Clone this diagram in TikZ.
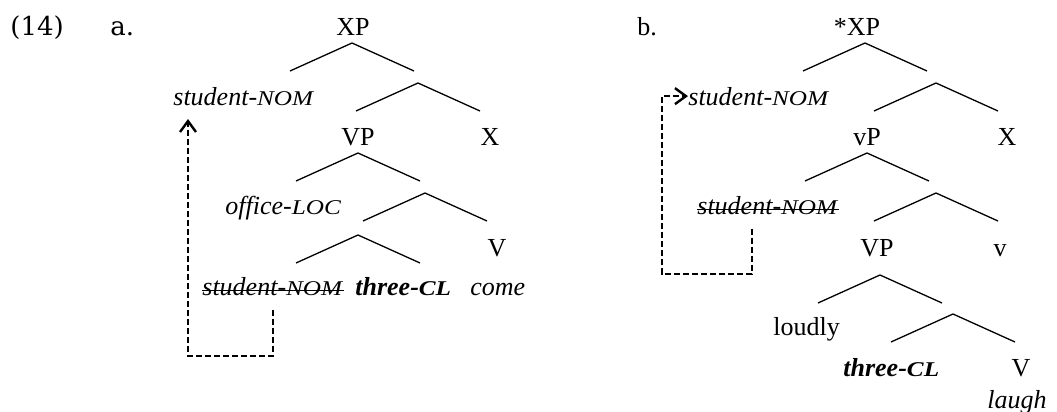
\documentclass[tikz,border=0pt]{standalone}
\usepackage{fontspec}
\setmainfont{Liberation Serif}
\newfontfamily\exfont{DejaVu Serif}
\usetikzlibrary{arrows.meta}
\newcommand{\smc}[1]{{\fontsize{10.5}{12}\selectfont\addfontfeature{FakeStretch=1.2}#1}}
\tikzset{
  fork/.pic={\draw[line width=0.65pt] (-62,28) -- (0,0) -- (62,28);},
  move/.style={line width=1.2pt, dash pattern=on 3pt off 1.5pt, -{Straight Barb[length=5.5pt,width=8pt]}},
  lbl/.style={inner sep=0pt, anchor=base, font=\fontsize{13}{15}\selectfont},
}
\begin{document}
\begin{tikzpicture}[x=0.5pt, y=-0.5pt]
  \useasboundingbox (0,0) rectangle (1057,412);
  % example number
  \node[lbl, anchor=base west] (num) at (10,35) {\exfont (14)};
  \node[lbl, anchor=base west] (la) at (110,35) {\exfont a.};
  % tree a
  \foreach \x/\y in {352/43, 418/83, 358/153, 425/193, 358/235}
    \pic at (\x,\y) {fork};
  \node[lbl] (xpa) at (353,35) {XP};
  \node[lbl, anchor=base west] (sna) at (173,105) {\textit{student-\smc{NOM}}};
  \node[lbl] (vpa) at (358,145) {VP};
  \node[lbl] (xa) at (490,145) {X};
  \node[lbl, anchor=base west] (loca) at (225,214) {\textit{office-\smc{LOC}}};
  \node[lbl] (va) at (497,256) {V};
  \node[lbl, anchor=base west] (tra) at (202,295) {\textit{student-\smc{NOM}}};
  \node[lbl, anchor=base west] (cla) at (355,295) {\textbf{\textit{three-\smc{CL}}}};
  \node[lbl, anchor=base west] (coa) at (470,295) {\textit{come}};
  \draw[line width=0.8pt] (tra.mid west) -- (tra.mid east);
  \coordinate (a2) at (188,356);
  \coordinate (a3) at (188,119);
  \draw[move] ([yshift=-7pt]tra.south) |- (a2) -- (a3);
  % tree b
  \node[lbl, anchor=base west] (lb) at (637,35) {b.};
  \foreach \x/\y in {865/43, 936/83, 867/153, 936/193, 880/275, 953/314}
    \pic at (\x,\y) {fork};
  \node[lbl] (xpb) at (857,35) {*XP};
  \node[lbl, anchor=base west] (snb) at (688,105) {\textit{student-\smc{NOM}}};
  \node[lbl] (vsb) at (867,145) {vP};
  \node[lbl] (xb) at (1007,145) {X};
  \node[lbl, anchor=base west] (trb) at (697,214) {\textit{student-\smc{NOM}}};
  \node[lbl] (vpb) at (877,256) {VP};
  \node[lbl] (vb) at (1000,256) {v};
  \node[lbl, anchor=base west] (adb) at (773,335) {loudly};
  \node[lbl, anchor=base west] (clb) at (843,376) {\textbf{\textit{three-\smc{CL}}}};
  \node[lbl] (vvb) at (1021,376) {V};
  \node[lbl, anchor=base west] (lab) at (987,408) {\textit{laugh}};
  \draw[line width=0.8pt] (trb.mid west) -- (trb.mid east);
  \coordinate (b2) at (662,274);
  \draw[move] ([xshift=-8pt,yshift=-7pt]trb.south) |- (b2) |- (snb.west);
\end{tikzpicture}
\end{document}
